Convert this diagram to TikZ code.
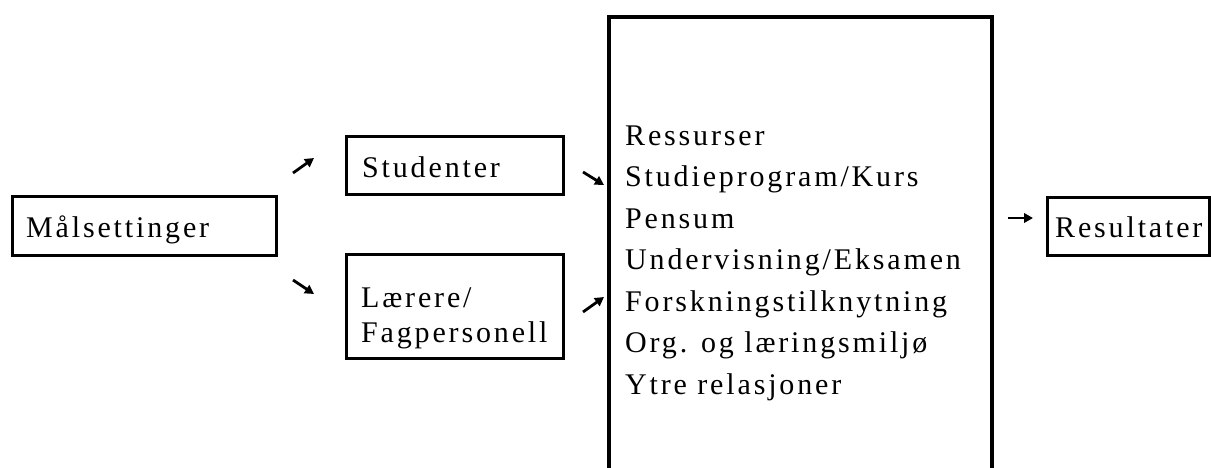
\documentclass[tikz,border=0pt]{standalone}
\usepackage{fontspec}
\setmainfont{Liberation Serif}[LetterSpace=9.5]
\usetikzlibrary{arrows.meta}
\tikzset{
  x=1pt, y=-1pt,
  frame/.style={draw, line width=3pt, rectangle, inner sep=0pt},
  txt/.style={anchor=base west, inner sep=0pt, font=\fontsize{30}{36}\selectfont},
  arr/.style={line width=2.8pt, -{Triangle[length=9pt,width=9.5pt]}},
}
\begin{document}
\begin{tikzpicture}
\useasboundingbox (0,0) rectangle (1211,467);
% boxes (corners)
\node[frame, minimum width=264pt, minimum height=59pt] (mal) at (144,225.5) {};
\node[frame, minimum width=217pt, minimum height=58pt] (stu) at (454.5,165) {};
\node[frame, minimum width=217pt, minimum height=104pt] (lar) at (454.5,306) {};
\node[frame, minimum width=162pt, minimum height=58pt] (res) at (1128,226) {};
% box texts
\node[txt] (malt) at (26,237) {Målsettinger};
\node[txt] (stut) at (362,177) {Studenter};
\node[txt] (lart1) at (361,307) {Lærere/};
\node[txt] (lart2) at (361,342) {Fagpersonell};
\node[txt] (rest) at (1055,237) {Resultater};
% big open box
\coordinate (bbl) at (609,470);
\coordinate (btl) at (609,17);
\coordinate (btr) at (992,17);
\coordinate (bbr) at (992,470);
\draw[line width=3.5pt] (bbl) -- (btl) -- (btr) -- (bbr);
% texts in big box
\node[txt] (t1) at (625,145) {Ressurser};
\node[txt] (t2) at (625,186.5) {Studieprogram/Kurs};
\node[txt] (t3) at (625,228) {Pensum};
\node[txt] (t4) at (625,269.5) {Undervisning/Eksamen};
\node[txt] (t5) at (625,311) {Forskningstilknytning};
\node[txt] (t6) at (625,352.5) {Org. og læringsmiljø};
\node[txt] (t7) at (625,394) {Ytre relasjoner};
% small arrows
\coordinate (a1s) at (293,173); \coordinate (a1e) at (314,158);
\coordinate (a2s) at (293,280); \coordinate (a2e) at (314,294);
\coordinate (a3s) at (583,172); \coordinate (a3e) at (604,185);
\coordinate (a4s) at (583,312); \coordinate (a4e) at (604,297);
\coordinate (a5s) at (1008,218); \coordinate (a5e) at (1033,218);
\draw[arr] (a1s) -- (a1e);
\draw[arr] (a2s) -- (a2e);
\draw[arr] (a3s) -- (a3e);
\draw[arr] (a4s) -- (a4e);
\draw[arr] (a5s) -- (a5e);
\end{tikzpicture}
\end{document}
